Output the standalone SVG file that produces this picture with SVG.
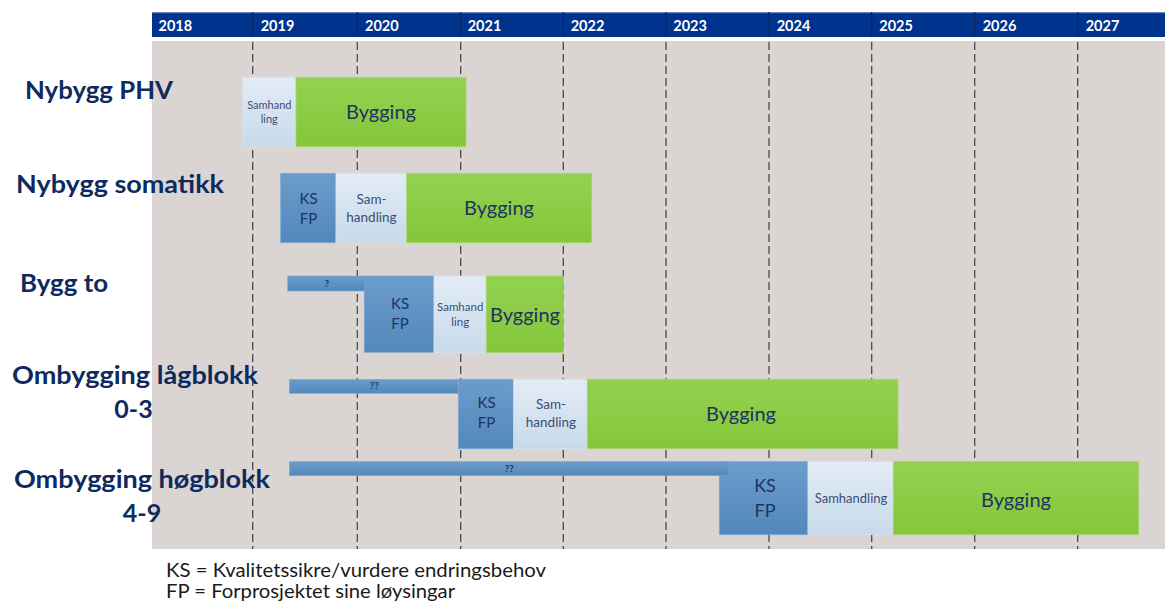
<svg xmlns="http://www.w3.org/2000/svg" width="1165" height="602" viewBox="0 0 1165 602">
<defs>
<linearGradient id="gBlue" x1="0" y1="0" x2="0" y2="1"><stop offset="0" stop-color="#6B9CCB"/><stop offset="1" stop-color="#5388BC"/></linearGradient>
<linearGradient id="gLight" x1="0" y1="0" x2="0" y2="1"><stop offset="0" stop-color="#E3ECF5"/><stop offset="1" stop-color="#C8DAEA"/></linearGradient>
<linearGradient id="gGreen" x1="0" y1="0" x2="0" y2="1"><stop offset="0" stop-color="#93D151"/><stop offset="1" stop-color="#84C739"/></linearGradient>
<style>
.ks{fill:url(#gBlue);stroke:#7FA8D0;stroke-width:0.8}
.sam{fill:url(#gLight);stroke:#D5E2EE;stroke-width:0.8}
.byg{fill:url(#gGreen);stroke:#A2D86A;stroke-width:0.8}
.bar{fill:url(#gBlue);stroke:#7FA8D0;stroke-width:0.6}
.t{font-family:Lato,"Open Sans","Liberation Sans",sans-serif;text-anchor:middle}
.tb{fill:#1F3262;font-size:20px}
.tk{fill:#1F3262}
.ts{fill:#3A4D78}
.tq{fill:#1F3262;font-size:10px;font-weight:bold}
.lab{font-family:Lato,"Open Sans","Liberation Sans",sans-serif;font-weight:bold;fill:#0E2A5E;font-size:25px}
.yr{font-family:Lato,"Open Sans","Liberation Sans",sans-serif;font-weight:bold;fill:#FFFFFF;font-size:14.5px}
.grid{stroke:#4A4A4A;stroke-width:1.3;stroke-dasharray:8 4}
.leg{font-family:Lato,"Open Sans","Liberation Sans",sans-serif;fill:#1A1A1A;font-size:18.5px}
</style>
</defs>
<rect width="1165" height="602" fill="#FFFFFF"/>
<g id="background">
<rect x="152" y="41" width="1013" height="508" fill="#DAD5D2"/>
<rect x="152" y="12" width="1013" height="25" fill="#00338D"/>
<rect x="152" y="12" width="1013" height="1.2" fill="#6A84BE"/>
</g>
<g id="grid">
<g stroke="#10265A" stroke-width="1.3">
<line x1="252.7" y1="12" x2="252.7" y2="37"/><line x1="357.3" y1="12" x2="357.3" y2="37"/><line x1="460.7" y1="12" x2="460.7" y2="37"/><line x1="563.3" y1="12" x2="563.3" y2="37"/><line x1="666" y1="12" x2="666" y2="37"/><line x1="769" y1="12" x2="769" y2="37"/><line x1="871.7" y1="12" x2="871.7" y2="37"/><line x1="974.7" y1="12" x2="974.7" y2="37"/><line x1="1077.7" y1="12" x2="1077.7" y2="37"/>
</g>
<g class="grid">
<line x1="252.7" y1="42" x2="252.7" y2="549"/><line x1="357.3" y1="42" x2="357.3" y2="549"/><line x1="460.7" y1="42" x2="460.7" y2="549"/><line x1="563.3" y1="42" x2="563.3" y2="549"/><line x1="666" y1="42" x2="666" y2="549"/><line x1="769" y1="42" x2="769" y2="549"/><line x1="871.7" y1="42" x2="871.7" y2="549"/><line x1="974.7" y1="42" x2="974.7" y2="549"/><line x1="1077.7" y1="42" x2="1077.7" y2="549"/>
</g>
</g>
<g id="years">
<text class="yr" x="158.5" y="30.5">2018</text>
<text class="yr" x="260.7" y="30.5">2019</text>
<text class="yr" x="365" y="30.5">2020</text>
<text class="yr" x="467.7" y="30.5">2021</text>
<text class="yr" x="570.7" y="30.5">2022</text>
<text class="yr" x="673.3" y="30.5">2023</text>
<text class="yr" x="776.7" y="30.5">2024</text>
<text class="yr" x="879.3" y="30.5">2025</text>
<text class="yr" x="982.7" y="30.5">2026</text>
<text class="yr" x="1085.7" y="30.5">2027</text>
</g>
<g id="labels">
<text class="lab" x="25" y="99" textLength="148" lengthAdjust="spacingAndGlyphs">Nybygg PHV</text>
<text class="lab" x="16" y="193" textLength="208" lengthAdjust="spacingAndGlyphs">Nybygg somatikk</text>
<text class="lab" x="20" y="291.5" textLength="88" lengthAdjust="spacingAndGlyphs">Bygg to</text>
<text class="lab" x="12" y="384" textLength="246" lengthAdjust="spacingAndGlyphs">Ombygging lågblokk</text>
<text class="lab" x="133.5" y="417.5" text-anchor="middle">0-3</text>
<text class="lab" x="14" y="487.5" textLength="256" lengthAdjust="spacingAndGlyphs">Ombygging høgblokk</text>
<text class="lab" x="142" y="521.5" text-anchor="middle">4-9</text>
</g>
<g id="row1-nybygg-phv">
<rect class="sam" x="242.7" y="77.3" width="53.3" height="69.4"/>
<text class="t ts" x="269.3" y="109" font-size="11">Samhand</text>
<text class="t ts" x="269.3" y="123" font-size="11">ling</text>
<rect class="byg" x="296" y="77.3" width="170" height="69.4"/>
<text class="t tb" x="381" y="119">Bygging</text>
</g>
<g id="row2-nybygg-somatikk">
<rect class="ks" x="280.7" y="173.3" width="55.3" height="69.4"/>
<text class="t tk" x="308.5" y="204" font-size="15">KS</text>
<text class="t tk" x="308.5" y="223.5" font-size="15">FP</text>
<rect class="sam" x="336" y="173.3" width="70.7" height="69.4"/>
<text class="t ts" x="371.5" y="204" font-size="13.5">Sam-</text>
<text class="t ts" x="371.5" y="221.7" font-size="13.5">handling</text>
<rect class="byg" x="406.7" y="173.3" width="185" height="69.4"/>
<text class="t tb" x="499" y="214.5">Bygging</text>
</g>
<g id="row3-bygg-to">
<rect class="ks" x="364.3" y="276" width="69.7" height="76.3"/>
<rect class="bar" x="287.7" y="276" width="77.3" height="15"/>
<text class="t tq" x="326.7" y="286.7">?</text>
<text class="t tk" x="400" y="309" font-size="15">KS</text>
<text class="t tk" x="400" y="329.3" font-size="15">FP</text>
<rect class="sam" x="434" y="276" width="52.3" height="76.3"/>
<text class="t ts" x="460.2" y="310.7" font-size="11.5">Samhand</text>
<text class="t ts" x="460.2" y="325.7" font-size="11.5">ling</text>
<rect class="byg" x="486.3" y="276" width="77" height="76.3"/>
<text class="t tb" x="525" y="321.7">Bygging</text>
</g>
<g id="row4-ombygging-lagblokk">
<rect class="bar" x="289.3" y="379.3" width="169" height="14"/>
<text class="t tq" x="374.3" y="389.3">??</text>
<rect class="ks" x="458.3" y="379.3" width="55.4" height="69.4"/>
<text class="t tk" x="486.5" y="408.3" font-size="15">KS</text>
<text class="t tk" x="486.5" y="428.3" font-size="15">FP</text>
<rect class="sam" x="513.7" y="379.3" width="73.6" height="69.4"/>
<text class="t ts" x="551" y="409" font-size="13.5">Sam-</text>
<text class="t ts" x="551" y="426.7" font-size="13.5">handling</text>
<rect class="byg" x="587.3" y="379.3" width="310.7" height="69.4"/>
<text class="t tb" x="741" y="420.7">Bygging</text>
</g>
<g id="row5-ombygging-hogblokk">
<rect class="ks" x="719.3" y="461.7" width="88.7" height="73"/>
<rect class="bar" x="289.3" y="461.7" width="439.7" height="14"/>
<text class="t tq" x="509.3" y="472.3">??</text>
<text class="t tk" x="765" y="491.7" font-size="18">KS</text>
<text class="t tk" x="765" y="517.3" font-size="18">FP</text>
<rect class="sam" x="808" y="461.7" width="85.3" height="73"/>
<text class="t ts" x="851" y="503.3" font-size="13">Samhandling</text>
<rect class="byg" x="893.3" y="461.7" width="245.4" height="73"/>
<text class="t tb" x="1016" y="506.7">Bygging</text>
</g>
<g id="legend">
<text class="leg" x="166" y="576.5" textLength="380" lengthAdjust="spacingAndGlyphs">KS = Kvalitetssikre/vurdere endringsbehov</text>
<text class="leg" x="166" y="597.5" textLength="289" lengthAdjust="spacingAndGlyphs">FP = Forprosjektet sine løysingar</text>
</g>
</svg>
